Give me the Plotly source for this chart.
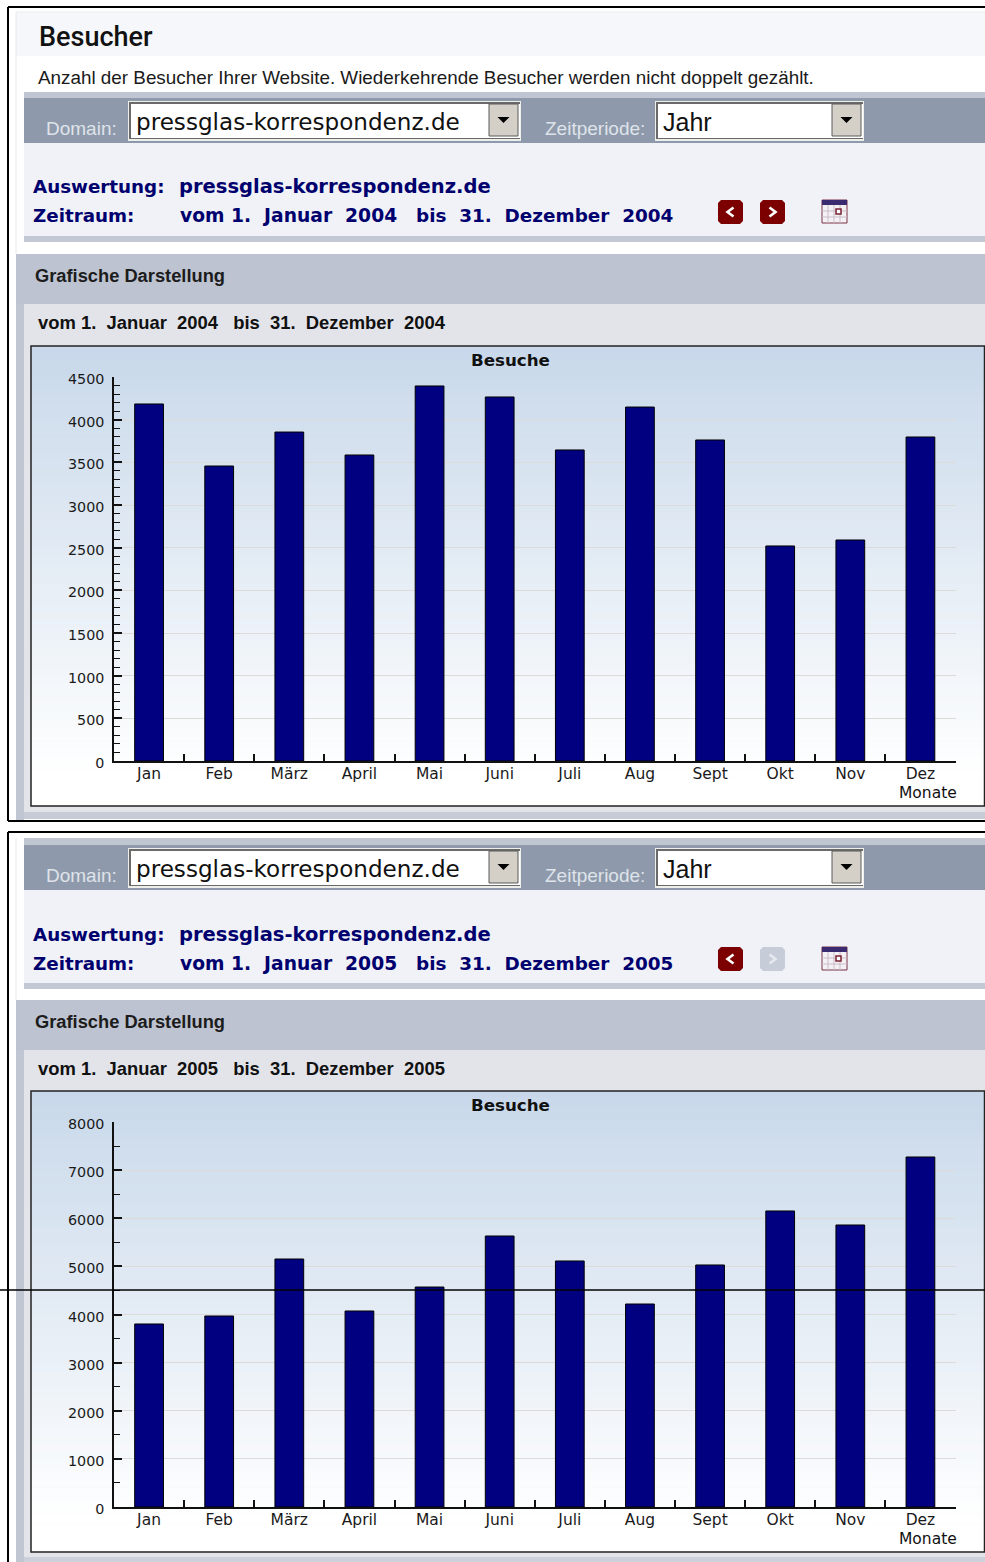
import plotly.graph_objects as go

W, H = 985, 1562

months = ["Jan", "Feb", "März", "April", "Mai", "Juni", "Juli", "Aug", "Sept", "Okt", "Nov", "Dez"]
visits_2004 = [4184, 3457, 3855, 3586, 4395, 4266, 3645, 4148, 3762, 2520, 2590, 3797]
visits_2005 = [3803, 3969, 5153, 4073, 4571, 5631, 5112, 4218, 5029, 6151, 5860, 7273]
y_ticks_2004 = [0, 500, 1000, 1500, 2000, 2500, 3000, 3500, 4000, 4500]
y_ticks_2005 = [0, 1000, 2000, 3000, 4000, 5000, 6000, 7000, 8000]

BODY = "Liberation Sans"
WIDE = "DejaVu Sans"
NAVY = "#00006e"
DARK_RED = "#7d0000"
NB = "\u00a0"

shapes, notes = [], []


def X(p):
    return p / W


def Y(p):
    return 1 - p / H


def rect(x0, y0, x1, y1, fill, line=None, lw=1, layer="below"):
    shapes.append(dict(type="rect", xref="paper", yref="paper", x0=X(x0), x1=X(x1), y0=Y(y0), y1=Y(y1),
                       fillcolor=fill, line=dict(color=line or fill, width=lw if line else 0), layer=layer))


def seg(x0, y0, x1, y1, color, lw=1, layer="below"):
    shapes.append(dict(type="line", xref="paper", yref="paper", x0=X(x0), x1=X(x1), y0=Y(y0), y1=Y(y1),
                       line=dict(color=color, width=lw), layer=layer))


def poly(points, fill=None, line=None, lw=1):
    d = "M " + " L ".join(f"{X(a):.5f} {Y(b):.5f}" for a, b in points)
    if fill:
        d += " Z"
    shapes.append(dict(type="path", xref="paper", yref="paper", path=d, layer="below",
                       fillcolor=fill or "rgba(0,0,0,0)", line=dict(color=line or fill, width=lw if line else 0)))


def text(x, y, s, size, color="#111111", family=BODY, bold=False, anchor="left", weight=None):
    notes.append(dict(xref="paper", yref="paper", x=X(x), y=Y(y), text=s, showarrow=False,
                      xanchor=anchor, yanchor="middle", borderpad=0, borderwidth=0,
                      font=dict(family=family, size=size, color=color, weight=weight or (700 if bold else 400))))


def select(x0, x1, y0, y1):
    rect(x0, y0, x1, y1, "#eeeeea")
    rect(x0 + 1, y0 + 1, x1 - 1, y1 - 2, "#6a6a6a")
    rect(x0 + 3, y0 + 3, x1 - 1, y1 - 3, "#ffffff")
    bx0, bx1 = x1 - 32, x1 - 3
    rect(bx0, y0 + 3, bx1, y1 - 5, "#d4d0c8", "#5a5a5a", 1)
    cx, cy = (bx0 + bx1) / 2, (y0 + y1) / 2 - 1
    poly([(cx - 6, cy - 3), (cx + 6, cy - 3), (cx, cy + 3)], fill="#000000")


def nav_button(x0, direction, enabled):
    fill = DARK_RED if enabled else "#c6ccd8"
    mark = "#ffffff" if enabled else "#e6e9ef"
    y0, y1 = (panel_y + 57, panel_y + 81)
    x1 = x0 + 25
    r = 3
    poly([(x0 + r, y0), (x1 - r, y0), (x1, y0 + r), (x1, y1 - r), (x1 - r, y1), (x0 + r, y1), (x0, y1 - r),
          (x0, y0 + r)], fill=fill)
    cx, cy = x0 + 12.5, (y0 + y1) / 2
    poly([(cx - 3 * direction, cy - 4.5), (cx + 3 * direction, cy), (cx - 3 * direction, cy + 4.5)],
         line=mark, lw=2.6)


def calendar(x0, y0):
    rect(x0, y0, x0 + 25, y0 + 23, "#f4f1f4", "#7a3344", 1)
    rect(x0, y0, x0 + 25, y0 + 5, "#3a2a70")
    for i in (6, 12, 18):
        seg(x0 + i, y0 + 5, x0 + i, y0 + 23, "#c9bcc8", 1)
    for j in (11, 17):
        seg(x0, y0 + j, x0 + 25, y0 + j, "#c9bcc8", 1)
    rect(x0 + 14, y0 + 9, x0 + 19, y0 + 14, "#ffffff", "#7a2233", 1.5)


def gradient(x0, x1, y0, y1, fade_end):
    top = (200, 216, 234)
    steps = 64
    for i in range(steps):
        a = y0 + (y1 - y0) * i / steps
        b = y0 + (y1 - y0) * (i + 1) / steps + 0.5
        t = min(1, ((a + b) / 2 - y0) / (fade_end - y0))
        c = tuple(round(v + (255 - v) * t) for v in top)
        rect(x0, a, x1, min(b, y1), f"rgb{c}")


def frame(x0, y0, y1):
    seg(x0, y0, W, y0, "#000000", 2)
    seg(x0, y0, x0, y1, "#000000", 2)


def panel(dy, year, next_enabled, strip_top, box_top, box_bottom, lower_top):
    global panel_y
    panel_y = 143 + dy
    # controls
    rect(24, 92 + dy, W, 98 + dy, "#c0c6d1")
    rect(24, 98 + dy, W, 143 + dy, "#8e9aab")
    text(46, 128 + dy, "Domain:", 19, "#dfe3ea")
    select(128, 521, 101 + dy, 141 + dy)
    text(136, 122 + dy, "pressglas-korrespondenz.de", 23.1, "#111111", WIDE)
    text(545, 128 + dy, "Zeitperiode:", 19, "#dfe3ea")
    select(655, 864, 101 + dy, 141 + dy)
    text(663, 122 + dy, "Jahr", 25, "#111111")
    # info
    rect(24, 143 + dy, W, 236 + dy, "#f0f2f7")
    rect(24, 236 + dy, W, 242 + dy, "#c3c9d4")
    text(33, 187 + dy, "Auswertung:", 18.3, NAVY, WIDE, True)
    text(179, 187 + dy, "pressglas-korrespondenz.de", 19.5, NAVY, WIDE, True)
    text(33, 216 + dy, "Zeitraum:", 18.3, NAVY, WIDE, True)
    text(180, 216 + dy, f"vom 1.{NB} Januar {NB}{year}", 18.7, NAVY, WIDE, True)
    text(416, 216 + dy, f"bis {NB}31.{NB} Dezember {NB}{year}", 18.4, NAVY, WIDE, True)
    nav_button(718, -1, True)
    nav_button(760, 1, next_enabled)
    calendar(822, 200 + dy)
    # lower part
    rect(16, strip_top, 24, H if dy else 820, "#c0c6d2")
    rect(16, lower_top, W, lower_top + 50, "#bdc3d0")
    rect(24, lower_top + 50, W, H if dy else 812, "#e3e4e9")
    if not dy:
        rect(24, 812, W, 819, "#c6cbd5")
    else:
        rect(24, 1557, W, H, "#cbd0da")
    text(35, lower_top + 22, "Grafische Darstellung", 18.3, "#1c1c1c", BODY, True)
    text(38, lower_top + 68, f"vom 1.{NB} Januar {NB}{year}{NB} {NB}bis {NB}31.{NB} Dezember {NB}{year}", 18.4,
         "#111111", BODY, True)
    gradient(31, W, box_top, box_bottom, box_bottom - 30)
    rect(31, box_top, W - 0.5, box_bottom, "rgba(0,0,0,0)", "#222222", 1.5)
    text(510, box_top + 14, "Besuche", 16.7, "#111111", WIDE, True, "center")
    text(957, box_bottom - 13, "Monate", 15.5, "#111111", WIDE, False, "right")


# ---- page
rect(0, 0, W, H, "#ffffff")
rect(16, 13, W, 56, "#f5f7fa")
seg(16, 12, 16, 254, "#e6e8ec", 1)
seg(16, 12, W, 12, "#e6e8ec", 1)
text(39, 37, "Besucher", 27, "#111111", "Roboto", weight=500)
text(38, 77, "Anzahl der Besucher Ihrer Website. Wiederkehrende Besucher werden nicht doppelt gezählt.", 18.85, "#1a1a1a")

seg(16, 838, 16, 1000, "#e6e8ec", 1)
rect(24, 838, W, 844, "#c0c6d1")
panel(0, 2004, True, 254, 346, 806, 254)
panel(747, 2005, False, 1000, 1091, 1552, 1000)
frame(8, 7, 821)
seg(8, 821, W, 821, "#000000", 2)
frame(8, 832, H)
seg(0, 1290, W, 1290, "#000000", 1.7, "above")

x_font = dict(family=WIDE, size=15.5, color="#1a1a1a")
y_font = dict(family=WIDE, size=14.3, color="#1a1a1a")


def x_axis(anchor):
    return dict(domain=[X(114), X(955.5)], anchor=anchor, type="category", range=[-0.5, 11.5],
                categoryorder="array", categoryarray=months, tickson="boundaries", ticks="inside", ticklen=7,
                tickwidth=1.5, tickcolor="#111111", showline=True, linecolor="#111111", linewidth=1.5,
                showgrid=False, zeroline=False, tickfont=x_font, ticklabelstandoff=-2, fixedrange=True)


def y_axis(anchor, top, bottom, vmax, ticks, minor):
    return dict(domain=[Y(bottom), Y(top)], anchor=anchor, range=[0, vmax], tickmode="array", tickvals=ticks,
                ticktext=[str(t) for t in ticks], ticks="inside", ticklen=8, tickwidth=1.5, tickcolor="#111111",
                minor=dict(dtick=minor, ticks="inside", ticklen=6, tickwidth=1, tickcolor="#111111", showgrid=False),
                showline=True, linecolor="#111111", linewidth=1.5, showgrid=True, gridcolor="#dddbd9", gridwidth=1,
                zeroline=False, tickfont=y_font, ticklabelstandoff=5, ticklabelshift=2, fixedrange=True)


fig = go.Figure()
bar_style = dict(marker=dict(color="#000080", line=dict(color="#000000", width=1)), width=0.41, showlegend=False)
fig.add_trace(go.Bar(x=months, y=visits_2004, xaxis="x", yaxis="y", **bar_style))
fig.add_trace(go.Bar(x=months, y=visits_2005, xaxis="x2", yaxis="y2", **bar_style))

fig.update_layout(
    width=W, height=H, autosize=False, margin=dict(l=0, r=0, t=0, b=0, pad=0, autoexpand=False),
    paper_bgcolor="#ffffff", plot_bgcolor="rgba(0,0,0,0)",
    xaxis=x_axis("y"), yaxis=y_axis("x", 377, 761, 4500, y_ticks_2004, 100),
    xaxis2=x_axis("y2"), yaxis2=y_axis("x2", 1122, 1507, 8000, y_ticks_2005, 500),
    shapes=shapes, annotations=notes, bargap=0.59,
)
fig.write_html("out.html", config=dict(displayModeBar=False), default_width="985px", default_height="1562px",
               post_script="document.documentElement.style.margin='0';document.body.style.margin='0';document.body.style.padding='0';")
